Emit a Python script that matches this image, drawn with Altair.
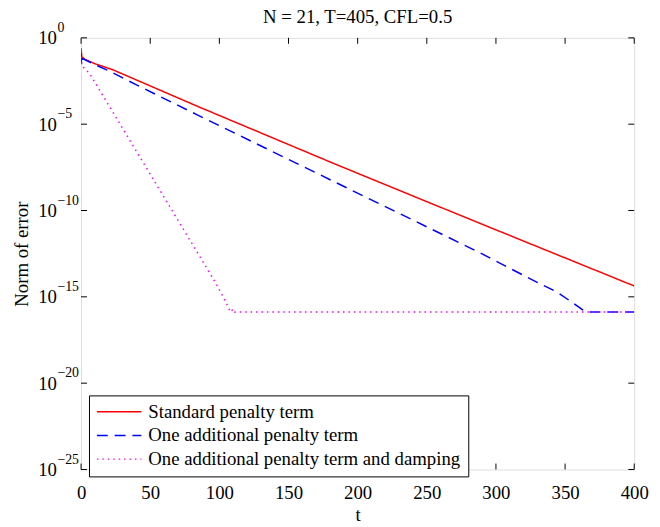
import altair as alt
import pandas as pd

FONT = "Liberation Serif"

series_names = [
    "Standard penalty term",
    "One additional penalty term",
    "One additional penalty term and damping",
]
series_colors = ["#ff0000", "#0000ff", "#ff00ff"]

# t and the error norm given as -log10(value)
red_t = [0, 0.5, 3, 10, 23, 84, 184, 284, 400]
red_dec = [0.6, 1.1, 1.25, 1.5, 1.85, 3.96, 7.32, 10.6, 14.37]

blue_t = [0, 0.3, 1, 10, 20, 39, 84, 184, 288, 327, 344, 356, 363, 365, 400]
blue_dec = [0.9, 1.6, 1.2, 1.55, 1.91, 2.68, 4.46, 8.37, 12.43, 14.05, 14.72, 15.37, 15.77, 15.88, 15.88]

pink_t = [0, 0.5, 6.4, 97, 105, 108, 110, 111, 400]
pink_dec = [1.1, 1.6, 2.1, 14.15, 15.35, 15.88, 15.7, 15.88, 15.88]

x_ticks = [0, 50, 100, 150, 200, 250, 300, 350, 400]
y_exponents = [0, -5, -10, -15, -20, -25]
y_exp_labels = ["0", "\u22125", "\u221210", "\u221215", "\u221220", "\u221225"]

rows = []
for name, ts, ds in zip(series_names, [red_t, blue_t, pink_t], [red_dec, blue_dec, pink_dec]):
    for i, (t, d) in enumerate(zip(ts, ds)):
        rows.append({"series": name, "t": t, "err": 10.0 ** (-d), "order": i})
df = pd.DataFrame(rows)

y_vals = [10.0 ** e for e in y_exponents]
ydf = pd.DataFrame({"err": y_vals, "lab": y_exp_labels})
xdf = pd.DataFrame({"t": x_ticks})

W, H = 560, 437

xscale = alt.Scale(domain=[0, 400], nice=False, zero=False)
yscale = alt.Scale(type="log", domain=[1e-25, 1], nice=False)

legend = alt.Legend(
    title=None, orient="none", legendX=8, legendY=362,
    strokeColor="black", fillColor="white", padding=7, cornerRadius=0,
    symbolType="stroke", symbolSize=2025, symbolStrokeWidth=1.5,
    labelFont=FONT, labelFontSize=19, labelOffset=6, rowPadding=4, labelLimit=0,
    clipHeight=19,
)

lines = alt.Chart(df).mark_line(strokeWidth=1.5, clip=True).encode(
    x=alt.X("t:Q", scale=xscale, axis=alt.Axis(
        values=x_ticks, format="d", ticks=False, domain=False, grid=False,
        labelFont=FONT, labelFontSize=19, labelPadding=14, labelFlush=False,
        labelColor="black", title="t", titleFont=FONT, titleFontSize=19,
        titleFontWeight="normal", titlePadding=4, titleColor="black")),
    y=alt.Y("err:Q", scale=yscale, axis=alt.Axis(
        values=y_vals, labelExpr="'10'", ticks=False, domain=False, grid=False,
        labelFont=FONT, labelFontSize=19, labelPadding=25, labelColor="black",
        title="Norm of error", titleFont=FONT, titleFontSize=19,
        titleFontWeight="normal", titlePadding=6, titleColor="black")),
    color=alt.Color("series:N", scale=alt.Scale(domain=series_names, range=series_colors),
                    sort=series_names, legend=legend),
    strokeDash=alt.StrokeDash("series:N", scale=alt.Scale(domain=series_names,
                              range=[[1, 0], [11, 7], [1.5, 4]]),
                              sort=series_names, legend=legend),
    order="order:Q",
    detail="series:N",
)

exps = alt.Chart(ydf).mark_text(align="left", baseline="alphabetic", font=FONT,
                                fontSize=14, dy=-6, color="black").encode(
    y=alt.Y("err:Q", scale=yscale),
    x=alt.value(-24),
    text="lab:N",
)

tick_len = 6
xt_bot = alt.Chart(xdf).mark_rule(color="black", strokeWidth=1).encode(
    x=alt.X("t:Q", scale=xscale), y=alt.value(H), y2=alt.value(H - tick_len))
xt_top = alt.Chart(xdf).mark_rule(color="black", strokeWidth=1).encode(
    x=alt.X("t:Q", scale=xscale), y=alt.value(0), y2=alt.value(tick_len))
yt_left = alt.Chart(ydf).mark_rule(color="black", strokeWidth=1).encode(
    y=alt.Y("err:Q", scale=yscale), x=alt.value(0), x2=alt.value(tick_len))
yt_right = alt.Chart(ydf).mark_rule(color="black", strokeWidth=1).encode(
    y=alt.Y("err:Q", scale=yscale), x=alt.value(W), x2=alt.value(W - tick_len))

chart = alt.layer(lines, xt_bot, xt_top, yt_left, yt_right, exps).properties(
    width=W, height=H,
    title=alt.TitleParams("N = 21, T=405, CFL=0.5", font=FONT, fontSize=19,
                          fontWeight="normal", offset=0, dy=6, anchor="middle",
                          color="black"),
    padding={"left": 74, "top": 27, "right": 18, "bottom": 55},
    autosize=alt.AutoSizeParams(type="none"),
).configure_view(stroke="black", strokeWidth=1).configure(background="white")

chart.save("out.html", embed_options={"renderer": "svg", "actions": False})
